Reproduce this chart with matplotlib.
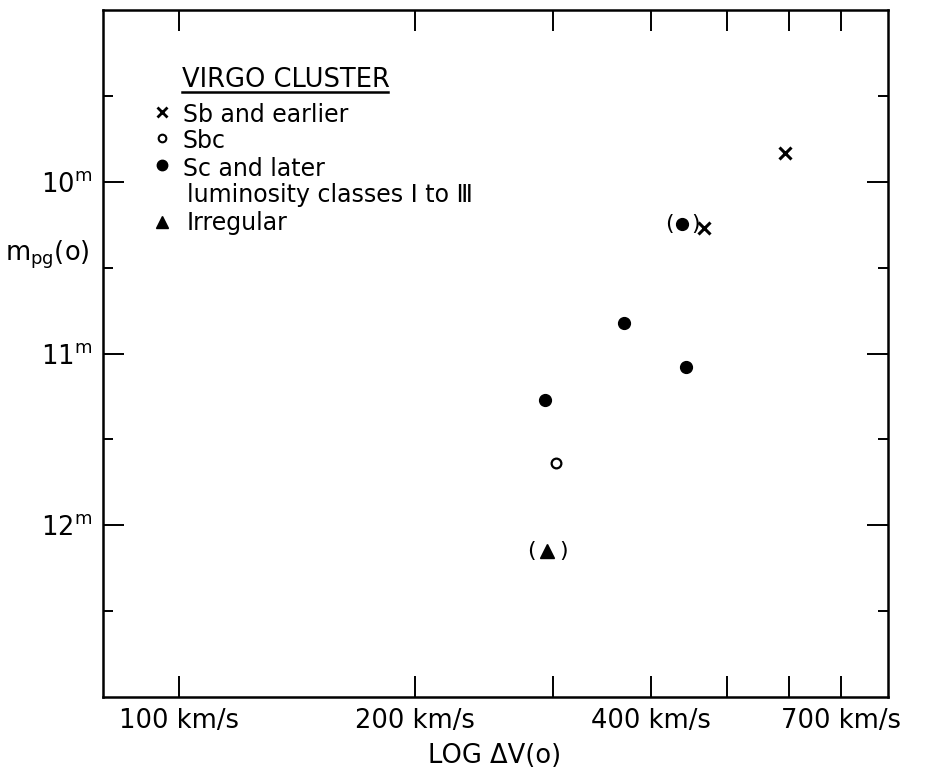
import matplotlib
matplotlib.use("Agg")
import matplotlib.pyplot as plt
from matplotlib.ticker import NullFormatter

plt.rcParams['font.family'] = ['DejaVu Sans']
plt.rcParams['mathtext.fontset'] = 'dejavusans'

# ---- data ----
sb_v = [594, 468]          # Sb and earlier, km/s
sb_m = [9.83, 10.27]
sbc_v = [303]              # Sbc
sbc_m = [11.64]
sc_v = [439, 370, 443, 293]  # Sc and later, lum. classes I-III
sc_m = [10.245, 10.82, 11.08, 11.27]
sc_paren = [True, False, False, False]
irr_v = [295]              # Irregular
irr_m = [12.15]
irr_paren = [True]

xmajor = [100, 200, 400, 700]
xmajor_labels = ["100 km/s", "200 km/s", "400 km/s", "700 km/s"]
xminor = [300, 500, 600]
ymajor = [10, 11, 12]
ymajor_labels = [r"$\mathregular{10^m}$", r"$\mathregular{11^m}$", r"$\mathregular{12^m}$"]
yminor = [9.5, 10.5, 11.5, 12.5]

legend_title = "VIRGO CLUSTER"
legend_items = ["Sb and earlier", "Sbc", "Sc and later"]
legend_extra = "luminosity classes \u2160 to \u2162"
legend_irr = "Irregular"

fig = plt.figure(figsize=(9.32, 7.72), dpi=100)
ax = fig.add_axes([103/932, 1-697/772, 785/932, 687/772])
ax.set_xscale('log')
ax.set_xlim(80, 803)
ax.set_ylim(13.0, 9.0)

for s in ax.spines.values():
    s.set_linewidth(1.8)

ax.set_xticks(xmajor)
ax.set_xticklabels(xmajor_labels)
ax.set_xticks(xminor, minor=True)
ax.xaxis.set_minor_formatter(NullFormatter())
ax.set_yticks(ymajor)
ax.set_yticklabels(ymajor_labels)
ax.set_yticks(yminor, minor=True)

ax.tick_params(axis='x', which='both', direction='in', length=15, width=1.4,
               top=True, bottom=True, labelsize=18.5, pad=8)
ax.tick_params(axis='y', which='major', direction='in', length=15, width=1.4,
               left=True, right=True, labelsize=18.5, pad=8)
ax.tick_params(axis='y', which='minor', direction='in', length=7.5, width=1.4,
               left=True, right=True)

# data marks
ax.plot(sb_v, sb_m, linestyle='none', marker='x', ms=8.5, mew=2.2, color='black')
ax.plot(sbc_v, sbc_m, linestyle='none', marker='o', ms=7, mew=1.6,
        mfc='white', mec='black')
ax.plot(sc_v, sc_m, linestyle='none', marker='o', ms=8.5, color='black')
ax.plot(irr_v, irr_m, linestyle='none', marker='^', ms=10, color='black')

def parens(vs, ms, flags, off):
    for v, m, f in zip(vs, ms, flags):
        if f:
            ax.annotate("(", xy=(v, m), xytext=(-off, 0), textcoords='offset pixels',
                        ha='center', va='center', fontsize=16)
            ax.annotate(")", xy=(v, m), xytext=(off, 0), textcoords='offset pixels',
                        ha='center', va='center', fontsize=16)

parens(sc_v, sc_m, sc_paren, 13)
parens(irr_v, irr_m, irr_paren, 16)

# legend (manual)
T = ax.transAxes
ax.text(0.1006, 0.888, legend_title, transform=T, fontsize=18.5, va='baseline', ha='left')
ax.plot([0.1006, 0.363], [0.8806, 0.8806], transform=T, color='black', lw=1.8)
ax.plot([0.0752], [0.8515], transform=T, marker='x', ms=7, mew=2, color='black')
ax.plot([0.0752], [0.8137], transform=T, marker='o', ms=5.5, mew=1.5, mfc='white', mec='black')
ax.plot([0.0752], [0.7744], transform=T, marker='o', ms=7.5, color='black')
ax.plot([0.0752], [0.6914], transform=T, marker='^', ms=9, color='black')
ax.text(0.1019, 0.837, legend_items[0], transform=T, fontsize=17, va='baseline')
ax.text(0.1019, 0.799, legend_items[1], transform=T, fontsize=17, va='baseline')
ax.text(0.1019, 0.7584, legend_items[2], transform=T, fontsize=17, va='baseline')
ax.text(0.1070, 0.7205, legend_extra, transform=T, fontsize=17, va='baseline')
ax.text(0.1070, 0.6798, legend_irr, transform=T, fontsize=17, va='baseline')

# axis labels
ax.text(-0.0166, 0.636, r"$\mathregular{m_{pg}(o)}$", transform=T, fontsize=18.5,
        ha='right', va='baseline')
ax.text(0.4994, -0.0961, "LOG \u0394V(o)", transform=T, fontsize=18.5,
        ha='center', va='baseline')

fig.savefig("out.png", dpi=100)
